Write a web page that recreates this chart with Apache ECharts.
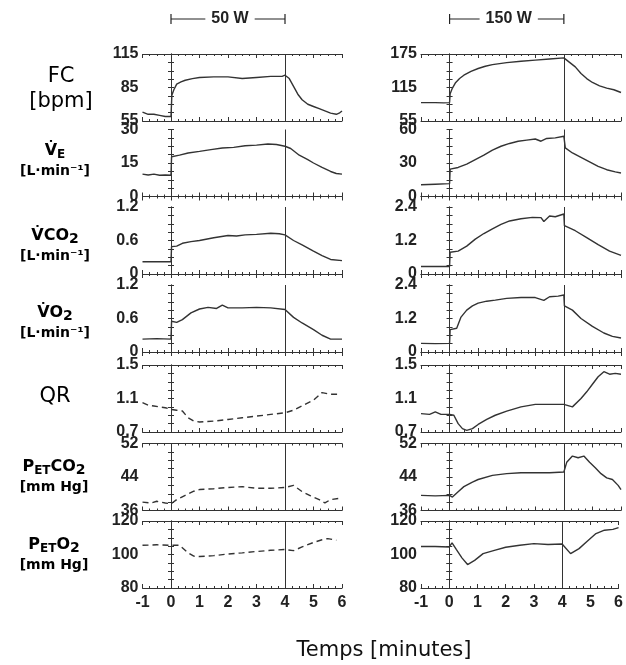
<!DOCTYPE html>
<html><head><meta charset="utf-8">
<script src="https://cdn.jsdelivr.net/npm/echarts@6/dist/echarts.min.js"></script>
<style>html,body{margin:0;padding:0;background:#fff}#c{width:626px;height:665px}</style>
</head><body><div id="c"></div>
<script>
// ---- data: [minutes, value] ----
const xTickLabels = [-1, 0, 1, 2, 3, 4, 5, 6];

const fc50 = [[-1,63],[-0.8,61],[-0.6,61],[-0.4,60],[-0.2,59],[0,59],[0.03,78],[0.1,83],[0.2,88],[0.35,90],[0.5,91.5],[0.75,93],[1,94],[1.5,94.5],[2,94.5],[2.5,93],[3,94],[3.5,95],[3.9,95],[4,96],[4.15,93],[4.3,86],[4.45,79],[4.6,74],[4.8,70],[5,68],[5.2,66],[5.4,64],[5.6,62],[5.8,61],[5.9,62],[6,64]];
const fc150 = [[-1,88],[-0.5,88],[-0.2,87.5],[0,88],[0.02,104],[0.1,114],[0.2,123],[0.35,131],[0.5,137],[0.75,144],[1,149],[1.25,153],[1.5,156],[2,159.5],[2.5,162],[3,164],[3.5,166],[4,168],[4.2,160],[4.4,152],[4.6,140],[4.8,131],[5,124],[5.25,118],[5.5,114],[5.75,111],[6,106]];

const ve50 = [[-1,10],[-0.8,9.6],[-0.6,10],[-0.4,9.5],[-0.2,9.6],[0,9.5],[0.02,17.8],[0.3,18.5],[0.6,19.5],[1,20.2],[1.4,21],[1.8,21.7],[2.2,22],[2.6,22.7],[3,23],[3.4,23.5],[3.7,23.3],[4,22.5],[4.2,21.5],[4.5,18.5],[4.8,16.5],[5,15],[5.3,13],[5.6,11.2],[5.8,10.3],[6,10]];
const ve150 = [[-1,10.5],[-0.5,11],[0,11.5],[0.02,24.5],[0.3,26],[0.6,29],[0.9,33],[1.2,37],[1.5,41.5],[1.8,45],[2.1,47.5],[2.4,49.5],[2.7,50.5],[3,51.5],[3.2,49.5],[3.4,52],[3.7,52.5],[4,54],[4.05,43.5],[4.3,39],[4.6,35],[4.9,31],[5.2,27],[5.5,24],[5.8,22],[6,21]];

const vco250 = [[-1,0.22],[-0.5,0.22],[0,0.22],[0.02,0.49],[0.2,0.5],[0.4,0.55],[0.7,0.58],[1,0.6],[1.5,0.65],[2,0.69],[2.3,0.68],[2.6,0.7],[3,0.71],[3.5,0.73],[3.8,0.72],[4,0.7],[4.3,0.6],[4.6,0.52],[5,0.41],[5.3,0.33],[5.6,0.26],[6,0.24]];
const vco2150 = [[-1,0.27],[-0.5,0.27],[0,0.27],[0.02,0.78],[0.3,0.82],[0.6,1.0],[0.9,1.25],[1.2,1.45],[1.5,1.62],[1.8,1.78],[2.1,1.9],[2.5,1.98],[2.9,2.03],[3.2,2.02],[3.3,1.88],[3.5,2.08],[3.7,2.05],[4,2.15],[4.02,1.73],[4.4,1.55],[4.8,1.3],[5.2,1.05],[5.6,0.82],[6,0.67]];

const vo250 = [[-1,0.23],[-0.5,0.24],[0,0.23],[0.02,0.55],[0.2,0.53],[0.4,0.58],[0.7,0.7],[1,0.77],[1.3,0.8],[1.6,0.78],[1.8,0.84],[2,0.79],[2.5,0.79],[3,0.8],[3.5,0.79],[4,0.76],[4.3,0.62],[4.6,0.52],[5,0.4],[5.3,0.3],[5.6,0.23],[6,0.23]];
const vo2150 = [[-1,0.31],[-0.5,0.3],[0,0.31],[0.02,0.8],[0.25,0.85],[0.4,1.25],[0.6,1.5],[0.8,1.65],[1,1.75],[1.3,1.82],[1.6,1.86],[2,1.92],[2.5,1.95],[3,1.95],[3.3,1.85],[3.5,1.98],[3.8,2.0],[4,2.04],[4.02,1.65],[4.3,1.5],[4.6,1.2],[5,0.92],[5.4,0.68],[5.7,0.56],[6,0.5]];

const qr50 = [[-1,1.05],[-0.8,1.02],[-0.6,1.01],[-0.4,1.0],[-0.2,0.99],[0,0.97],[0.2,0.96],[0.4,0.95],[0.6,0.87],[0.8,0.83],[1,0.82],[1.5,0.83],[2,0.85],[2.5,0.87],[3,0.89],[3.5,0.91],[4,0.93],[4.3,0.96],[4.7,1.03],[5,1.08],[5.3,1.17],[5.6,1.15],[5.9,1.15]];
const qr150 = [[-1,0.92],[-0.7,0.91],[-0.5,0.94],[-0.3,0.91],[0,0.91],[0.15,0.9],[0.3,0.8],[0.45,0.74],[0.6,0.72],[0.8,0.74],[1,0.79],[1.3,0.85],[1.6,0.9],[2,0.95],[2.5,1.0],[3,1.03],[3.5,1.03],[4,1.03],[4.3,1.0],[4.6,1.1],[4.8,1.18],[5,1.27],[5.2,1.36],[5.4,1.42],[5.6,1.39],[5.8,1.4],[6,1.39]];

const petco250 = [[-1,38],[-0.7,37.8],[-0.5,38.2],[-0.2,37.8],[0,37.6],[0.2,38.6],[0.5,39.6],[0.8,40.6],[1,41],[1.5,41.2],[2,41.5],[2.5,41.7],[3,41.3],[3.5,41.3],[4,41.5],[4.3,42],[4.6,40.5],[4.9,39.5],[5.2,38.6],[5.4,37.8],[5.6,38.6],[6,39]];
const petco2150 = [[-1,39.6],[-0.5,39.5],[0,39.6],[0.1,39.2],[0.3,40.5],[0.5,41.7],[0.8,42.8],[1,43.4],[1.5,44.4],[2,44.8],[2.5,45],[3,45],[3.5,45],[4,45.2],[4.1,47.5],[4.3,49],[4.5,48.6],[4.7,49],[4.9,47.5],[5.1,46.2],[5.3,44.8],[5.5,43.8],[5.7,43.4],[5.9,42],[6,41]];

const peto250 = [[-1,105.5],[-0.5,105.8],[0,105.5],[0.3,105.5],[0.6,101],[0.8,99],[1,98.8],[1.5,99.3],[2,100.3],[2.5,101],[3,101.8],[3.5,102.5],[4,103],[4.3,102.3],[4.6,104.5],[5,107.2],[5.3,108.8],[5.5,109.5],[5.8,108.5]];
const peto2150 = [[-1,104.8],[-0.5,104.8],[0,104.5],[0.1,107],[0.25,103],[0.45,98],[0.65,94],[0.9,96.5],[1.2,100.5],[1.6,102.5],[2,104.3],[2.5,105.5],[3,106.5],[3.5,106],[4,106.3],[4.3,100.5],[4.6,103.5],[4.9,108],[5.2,112.5],[5.5,114.5],[5.8,115],[6,116]];

// y tick labels per row: [left column, right column]
const yTicksLeft  = [[55,85,115],[0,15,30],[0,0.6,1.2],[0,0.6,1.2],[0.7,1.1,1.5],[36,44,52],[80,100,120]];
const yTicksRight = [[55,115,175],[0,30,60],[0,1.2,2.4],[0,1.2,2.4],[0.7,1.1,1.5],[36,44,52],[80,100,120]];
const seriesLeft  = [fc50, ve50, vco250, vo250, qr50, petco250, peto250];
const seriesRight = [fc150, ve150, vco2150, vo2150, qr150, petco2150, peto2150];
const dashedLeft  = [false, false, false, false, true, true, true];
const stageLabels = ['50 W', '150 W'];
const stageBounds = [0, 4];

// ---- layout ----
const gridTops = [54, 129.5, 207, 285, 365, 443.5, 521];
const gridH = 67;
const cols = [{left: 142.5, width: 199.5}, {left: 421, width: 200}];
const INK = '#333';
const tickFont = {fontSize: 16, fontWeight: 'bold', fontFamily: 'Liberation Sans, Arial, sans-serif', color: '#222'};
const fmt = v => String(+(+v).toFixed(2));

const grid = [], xAxis = [], yAxis = [], series = [];
for (let r = 0; r < 7; r++) {
  for (let c = 0; c < 2; c++) {
    const gi = grid.length;
    grid.push({left: cols[c].left, width: cols[c].width, top: gridTops[r], height: gridH});
    const ticks = c === 0 ? yTicksLeft[r] : yTicksRight[r];
    const mn = ticks[0], mx = ticks[2];
    const minor = [];
    for (let i = 0; i <= 8; i++) minor.push(mn + i * (mx - mn) / 8);
    const isBottom = r === 6;
    xAxis.push({gridIndex: gi, type: 'value', min: -1, max: 6, interval: 1, position: 'bottom',
      axisLine: {show: true, lineStyle: {color: INK, width: 1}},
      axisTick: {show: true, inside: true, length: 4, lineStyle: {color: INK}},
      minorTick: {show: true, splitNumber: 4, length: 2, lineStyle: {color: INK}},
      splitLine: {show: false},
      axisLabel: Object.assign({show: isBottom, margin: 7, formatter: v => String(v)}, tickFont)});
    xAxis.push({gridIndex: gi, type: 'value', min: -1, max: 6, interval: 1, position: 'top',
      axisLine: {show: true, lineStyle: {color: INK, width: 1}},
      axisTick: {show: true, inside: true, length: 4, lineStyle: {color: INK}},
      minorTick: {show: true, splitNumber: 4, length: 2, lineStyle: {color: INK}},
      splitLine: {show: false}, axisLabel: {show: false}});
    yAxis.push({gridIndex: gi, type: 'value', min: mn, max: mx, position: 'left',
      axisLine: {show: true, lineStyle: {color: INK, width: 1}},
      axisTick: {show: true, inside: true, length: 3, customValues: minor, lineStyle: {color: INK}},
      splitLine: {show: false},
      axisLabel: Object.assign({customValues: ticks, margin: 4, formatter: fmt}, tickFont)});
    yAxis.push({gridIndex: gi, type: 'value', min: mn, max: mx, position: 'right',
      axisLine: {show: true, lineStyle: {color: INK, width: 1}},
      axisTick: {show: true, inside: true, length: 3, customValues: minor, lineStyle: {color: INK}},
      splitLine: {show: false}, axisLabel: {show: false}});
    series.push({
      type: 'line', xAxisIndex: 2 * gi, yAxisIndex: 2 * gi,
      data: c === 0 ? seriesLeft[r] : seriesRight[r],
      showSymbol: false, animation: false, silent: true,
      lineStyle: {color: INK, width: 1.4, type: (c === 0 && dashedLeft[r]) ? [6, 4] : 'solid'},
      markLine: {silent: true, symbol: ['none', 'none'], label: {show: false},
        lineStyle: {color: INK, type: 'solid', width: 1},
        data: stageBounds.map(b => ({xAxis: b}))}
    });
  }
}

const sideLabels = [
  {x: 61, y: 89, text: '{b|FC}\n{b|[bpm]}'},
  {x: 55, y: 161, text: '{v|V̇}{s|E}\n{u|[L·min⁻¹]}'},
  {x: 55, y: 246, text: '{v|V̇CO}{d|2}\n{u|[L·min⁻¹]}'},
  {x: 55, y: 323, text: '{v|V̇O}{d|2}\n{u|[L·min⁻¹]}'},
  {x: 55, y: 397, text: '{b|QR}'},
  {x: 54, y: 477, text: '{v|P}{s|ET}{v|CO}{d|2}\n{u|[mm Hg]}'},
  {x: 54, y: 555, text: '{v|P}{s|ET}{v|O}{d|2}\n{u|[mm Hg]}'}
];
const grey = '#4a4a4a';
const rich = {
  b: {fontSize: 21, fontFamily: 'DejaVu Sans', color: '#111', lineHeight: 25},
  v: {fontSize: 16, fontWeight: 'bold', fontFamily: 'DejaVu Sans', color: grey, lineHeight: 20},
  s: {fontSize: 12, fontWeight: 'bold', fontFamily: 'DejaVu Sans', color: grey, lineHeight: 20, verticalAlign: 'bottom', padding: [5, 0, 0, 0]},
  d: {fontSize: 14, fontWeight: 'bold', fontFamily: 'DejaVu Sans', color: grey, lineHeight: 20, verticalAlign: 'bottom', padding: [9, 0, 0, 0]},
  u: {fontSize: 14, fontWeight: 'bold', fontFamily: 'DejaVu Sans', color: grey, lineHeight: 20}
};

const chart = echarts.init(document.getElementById('c'), null, {renderer: 'canvas'});
chart.setOption({
  animation: false,
  backgroundColor: '#fff',
  grid, xAxis, yAxis, series
});

const graphic = [];
sideLabels.forEach(l => graphic.push({type: 'text', x: l.x, y: l.y,
  style: {text: l.text, rich, align: 'center', verticalAlign: 'middle'}}));
for (let c = 0; c < 2; c++) {
  const p0 = chart.convertToPixel({gridIndex: c}, [stageBounds[0], 0])[0];
  const p1 = chart.convertToPixel({gridIndex: c}, [stageBounds[1], 0])[0];
  const y = 19;
  graphic.push({type: 'line', shape: {x1: p0, y1: y, x2: p1, y2: y}, style: {stroke: '#222', lineWidth: 1.2}});
  graphic.push({type: 'line', shape: {x1: p0, y1: y - 5, x2: p0, y2: y + 5}, style: {stroke: '#222', lineWidth: 1.2}});
  graphic.push({type: 'line', shape: {x1: p1, y1: y - 5, x2: p1, y2: y + 5}, style: {stroke: '#222', lineWidth: 1.2}});
  graphic.push({type: 'text', x: (p0 + p1) / 2 + 2, y: y, z: 10,
    style: {text: stageLabels[c], align: 'center', verticalAlign: 'middle', fontSize: 16, fontWeight: 'bold',
      fontFamily: 'Liberation Sans, Arial, sans-serif', fill: '#222', backgroundColor: '#fff', padding: [0, 6]}});
}
graphic.push({type: 'text', x: 384, y: 651,
  style: {text: 'Temps [minutes]', align: 'center', verticalAlign: 'middle', fontSize: 21,
    fontFamily: 'DejaVu Sans', fill: '#111'}});
chart.setOption({graphic});
</script>
</body></html>
